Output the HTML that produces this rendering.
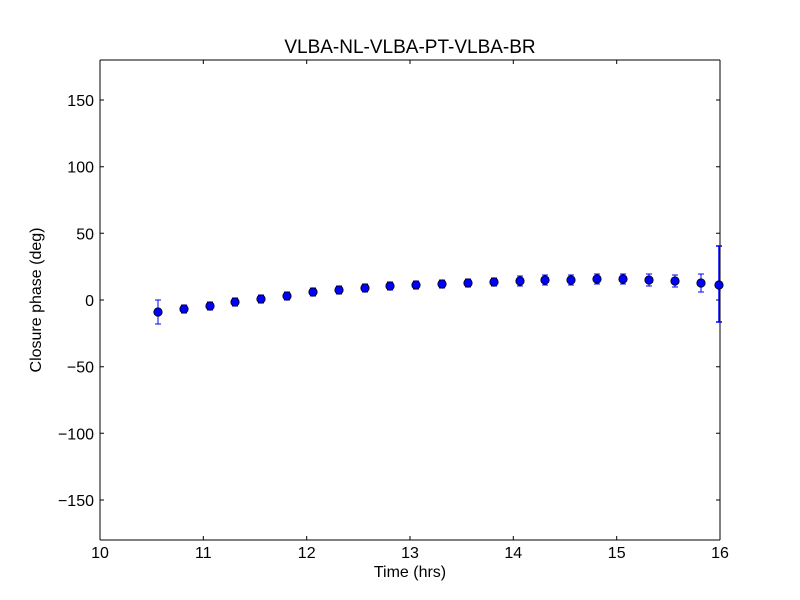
<!DOCTYPE html>
<html><head><style>body{margin:0;background:#fff}svg{display:block}</style></head><body>
<svg width="800" height="600" xmlns="http://www.w3.org/2000/svg" font-family="'Liberation Sans','DejaVu Sans',sans-serif">
<rect width="800" height="600" fill="#fff"/>
<text x="410" y="53" font-size="19" text-anchor="middle">VLBA-NL-VLBA-PT-VLBA-BR</text>
<g stroke="#000" stroke-width="1" fill="none">
<path d="M100 60V540M720 60V540M100 60H720M100 540H720"/>
<path d="M100 540v-4M203.3 540v-4M306.7 540v-4M410 540v-4M513.3 540v-4M616.7 540v-4M720 540v-4
M100 60v4M203.3 60v4M306.7 60v4M410 60v4M513.3 60v4M616.7 60v4M720 60v4"/>
<path d="M100 100h4M100 166.7h4M100 233.3h4M100 300h4M100 366.7h4M100 433.3h4M100 500h4
M720 100h-4M720 166.7h-4M720 233.3h-4M720 300h-4M720 366.7h-4M720 433.3h-4M720 500h-4"/>
</g>
<g font-size="16" text-anchor="middle">
<text x="100" y="558">10</text><text x="203.3" y="558">11</text><text x="306.7" y="558">12</text><text x="410" y="558">13</text><text x="513.3" y="558">14</text><text x="616.7" y="558">15</text><text x="720" y="558">16</text>
</g>
<g font-size="16" text-anchor="end">
<text x="94" y="106">150</text><text x="94" y="172.7">100</text><text x="94" y="239.3">50</text><text x="94" y="306">0</text><text x="94" y="372.7">−50</text><text x="94" y="439.3">−100</text><text x="94" y="506">−150</text>
</g>
<text x="410" y="577" font-size="16" text-anchor="middle">Time (hrs)</text>
<text transform="translate(41,300) rotate(-90)" font-size="16" text-anchor="middle">Closure phase (deg)</text>
<g stroke="#0000ff" stroke-width="1" fill="none">
<path d="M158 300V324M155 300h6M155 324h6"/>
<path d="M184 305V313M181 305h6M181 313h6"/>
<path d="M210 302V310M207 302h6M207 310h6"/>
<path d="M235 298V306M232 298h6M232 306h6"/>
<path d="M261 295V303M258 295h6M258 303h6"/>
<path d="M287 292V300M284 292h6M284 300h6"/>
<path d="M313 288V296M310 288h6M310 296h6"/>
<path d="M339 286V294M336 286h6M336 294h6"/>
<path d="M365 284V292M362 284h6M362 292h6"/>
<path d="M390 282V290M387 282h6M387 290h6"/>
<path d="M416 281V289M413 281h6M413 289h6"/>
<path d="M442 280V288M439 280h6M439 288h6"/>
<path d="M468 279V287M465 279h6M465 287h6"/>
<path d="M494 278V286M491 278h6M491 286h6"/>
<path d="M520 276V286M517 276h6M517 286h6"/>
<path d="M545 275V285M542 275h6M542 285h6"/>
<path d="M571 275V285M568 275h6M568 285h6"/>
<path d="M597 274V284M594 274h6M594 284h6"/>
<path d="M623 274V284M620 274h6M620 284h6"/>
<path d="M649 274V286M646 274h6M646 286h6"/>
<path d="M675 275V287M672 275h6M672 287h6"/>
<path d="M701 274V292M698 274h6M698 292h6"/>
<path d="M719 246V322M716 246h6M716 322h6" stroke-width="1.5"/>
</g>
<g fill="#0000ff" stroke="#000" stroke-width="0.8">
<circle cx="158" cy="312" r="4.2"/><circle cx="184" cy="309" r="4.2"/><circle cx="210" cy="306" r="4.2"/><circle cx="235" cy="302" r="4.2"/><circle cx="261" cy="299" r="4.2"/><circle cx="287" cy="296" r="4.2"/><circle cx="313" cy="292" r="4.2"/><circle cx="339" cy="290" r="4.2"/><circle cx="365" cy="288" r="4.2"/><circle cx="390" cy="286" r="4.2"/><circle cx="416" cy="285" r="4.2"/><circle cx="442" cy="284" r="4.2"/><circle cx="468" cy="283" r="4.2"/><circle cx="494" cy="282" r="4.2"/><circle cx="520" cy="281" r="4.2"/><circle cx="545" cy="280" r="4.2"/><circle cx="571" cy="280" r="4.2"/><circle cx="597" cy="279" r="4.2"/><circle cx="623" cy="279" r="4.2"/><circle cx="649" cy="280" r="4.2"/><circle cx="675" cy="281" r="4.2"/><circle cx="701" cy="283" r="4.2"/><circle cx="719" cy="285" r="4.2"/>
</g>
</svg>
</body></html>
